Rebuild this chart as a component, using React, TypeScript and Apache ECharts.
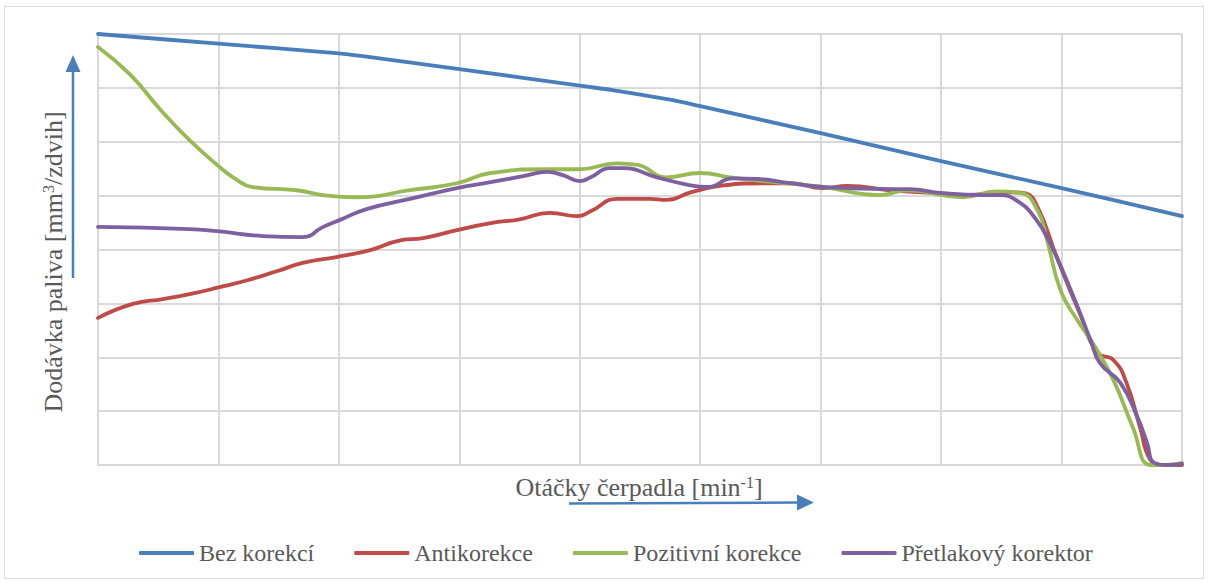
import React, { useEffect, useRef } from "react";
import * as echarts from "echarts";

// Series names
const seriesNames = ["Bez korekcí", "Antikorekce", "Pozitivní korekce", "Přetlakový korektor"];
const seriesColors = ["#4a7ebb", "#be4b48", "#98b954", "#7d60a0"];

// Bez korekcí
const xBez = [0, 100, 200, 226, 300, 400, 427, 475, 500, 600, 700, 800, 900];
const yBez = [80, 78.2, 76.4, 75.7, 73.5, 70.4, 69.6, 67.8, 66.6, 61.6, 56.4, 51.4, 46.2];

// Antikorekce
const xAnti = [0, 29, 54, 76, 101, 124, 149, 170, 198, 226, 251, 270, 298, 326, 350, 375, 398, 409, 431, 458, 472, 492, 519, 552, 575, 602, 622, 658, 685, 718, 760, 770, 780, 796, 815, 830, 843, 854, 865, 874, 884, 900];
const yAnti = [27.3, 29.9, 30.8, 31.7, 33.0, 34.3, 36.0, 37.5, 38.6, 39.9, 41.7, 42.1, 43.6, 44.9, 45.6, 46.8, 46.2, 47.1, 49.4, 49.4, 49.2, 50.6, 51.9, 52.3, 52.3, 51.4, 51.8, 51.0, 50.6, 50.1, 50.6, 50.4, 47.9, 38.6, 28.2, 20.8, 19.5, 15.2, 7.1, 0.9, 0, 0];

// Pozitivní korekce
const xPoz = [0, 27, 52, 76, 101, 114, 128, 165, 187, 215, 259, 298, 326, 373, 400, 431, 448, 472, 500, 525, 561, 602, 649, 672, 718, 746, 766, 780, 788, 799, 813, 826, 843, 859, 874, 888, 900];
const yPoz = [77.6, 72.4, 65.9, 60.3, 55.3, 53.1, 51.6, 51.0, 50.1, 49.7, 51.0, 52.3, 54.2, 54.9, 54.9, 56.0, 55.7, 53.4, 54.2, 53.4, 52.5, 51.6, 50.1, 51.0, 49.7, 50.8, 50.5, 47.3, 41.7, 32.5, 26.9, 22.6, 15.8, 7.1, 0, 0, 0.4];

// Přetlakový korektor
const xPret = [0, 76, 99, 137, 170, 187, 201, 223, 259, 298, 326, 353, 373, 386, 400, 409, 425, 436, 464, 492, 506, 527, 547, 575, 602, 658, 674, 699, 735, 749, 766, 776, 788, 810, 824, 832, 849, 863, 871, 877, 888, 900];
const yPret = [44.2, 43.8, 43.4, 42.5, 42.3, 44.2, 45.5, 47.5, 49.4, 51.4, 52.5, 53.6, 54.4, 53.8, 52.7, 53.4, 55.1, 55.1, 53.4, 51.9, 51.6, 53.2, 53.1, 52.3, 51.6, 51.2, 51.2, 50.5, 50.1, 50.1, 48.6, 46.4, 42.3, 31.2, 23.2, 18.9, 15.2, 8.9, 4.1, 0.4, 0, 0.2];

const xs = [xBez, xAnti, xPoz, xPret];
const ys = [yBez, yAnti, yPoz, yPret];
const smoothness = [0.25, 0.5, 0.5, 0.5];

const FONT = "Liberation Serif";
const TEXT_COLOR = "#595959";
const GRID_COLOR = "#d9d9d9";
const ARROW_COLOR = "#4a7ebb";

export default function App() {
  const ref = useRef<HTMLDivElement>(null);

  useEffect(() => {
    if (!ref.current) return;
    const chart = echarts.init(ref.current, null, { renderer: "svg" });

    const series = seriesNames.map((name, i) => ({
      name,
      type: "line",
      data: xs[i].map((x, j) => [x, ys[i][j]]),
      smooth: smoothness[i],
      showSymbol: false,
      symbol: "none",
      lineStyle: { color: seriesColors[i], width: 3.8, cap: "round", join: "round" },
      itemStyle: { color: seriesColors[i] },
      z: 3,
    }));

    const serif = { fontFamily: FONT, fontSize: 24, color: TEXT_COLOR, fontWeight: "normal" as const };

    chart.setOption({
      animation: false,
      backgroundColor: "#ffffff",
      textStyle: { fontFamily: FONT },
      grid: { left: 98, top: 34, width: 1084, height: 431, containLabel: false },
      xAxis: {
        type: "value",
        min: 0,
        max: 900,
        interval: 100,
        axisLine: { show: true, lineStyle: { color: GRID_COLOR, width: 2 } },
        axisTick: { show: false },
        axisLabel: { show: false },
        splitLine: { show: true, lineStyle: { color: GRID_COLOR, width: 2 } },
      },
      yAxis: {
        type: "value",
        min: 0,
        max: 80,
        interval: 10,
        axisLine: { show: true, lineStyle: { color: GRID_COLOR, width: 2 } },
        axisTick: { show: false },
        axisLabel: { show: false },
        splitLine: { show: true, lineStyle: { color: GRID_COLOR, width: 2 } },
      },
      legend: {
        left: 134,
        top: 536,
        icon: "roundRect",
        itemWidth: 55,
        itemHeight: 4,
        itemGap: 40,
        formatter: (name: string) => `{s|${name}}`,
        textStyle: { ...serif, rich: { s: { ...serif } } },
        data: seriesNames,
      },
      graphic: [
        {
          type: "rect",
          shape: { x: 4.5, y: 6.5, width: 1199, height: 572 },
          style: { fill: "none", stroke: GRID_COLOR, lineWidth: 1 },
          silent: true,
          z: -10,
        },
        // Y axis title
        {
          type: "text",
          x: 53,
          y: 262,
          rotation: Math.PI / 2,
          style: {
            text: "Dodávka paliva [mm{sup|3}/zdvih]",
            fontFamily: FONT,
            fontSize: 26,
            fill: TEXT_COLOR,
            align: "center",
            verticalAlign: "middle",
            rich: {
              sup: { fontSize: 16, fontFamily: FONT, fill: TEXT_COLOR, verticalAlign: "top", padding: [0, 0, 10, 0] },
            },
          },
          z: 10,
        },
        // X axis title
        {
          type: "text",
          x: 639,
          y: 487,
          style: {
            text: "Otáčky čerpadla [min{sup|-1}]",
            fontFamily: FONT,
            fontSize: 26,
            fill: TEXT_COLOR,
            align: "center",
            verticalAlign: "middle",
            rich: {
              sup: { fontSize: 16, fontFamily: FONT, fill: TEXT_COLOR, verticalAlign: "top", padding: [0, 0, 10, 0] },
            },
          },
          z: 10,
        },
        // Y arrow
        {
          type: "line",
          shape: { x1: 73, y1: 278, x2: 73, y2: 70 },
          style: { stroke: ARROW_COLOR, lineWidth: 2.5 },
        },
        {
          type: "polygon",
          shape: { points: [[73, 55], [65.5, 72], [80.5, 72]] },
          style: { fill: ARROW_COLOR },
        },
        // X arrow
        {
          type: "line",
          shape: { x1: 569, y1: 503.5, x2: 799, y2: 502.5 },
          style: { stroke: ARROW_COLOR, lineWidth: 2.5 },
        },
        {
          type: "polygon",
          shape: { points: [[814, 502.5], [797, 494.5], [797, 510.5]] },
          style: { fill: ARROW_COLOR },
        },
      ],
      series,
    });

    return () => chart.dispose();
  }, []);

  return (
    <div
      ref={ref}
      style={{ position: "absolute", left: 0, top: 0, width: 1208, height: 583, background: "#fff" }}
    />
  );
}
